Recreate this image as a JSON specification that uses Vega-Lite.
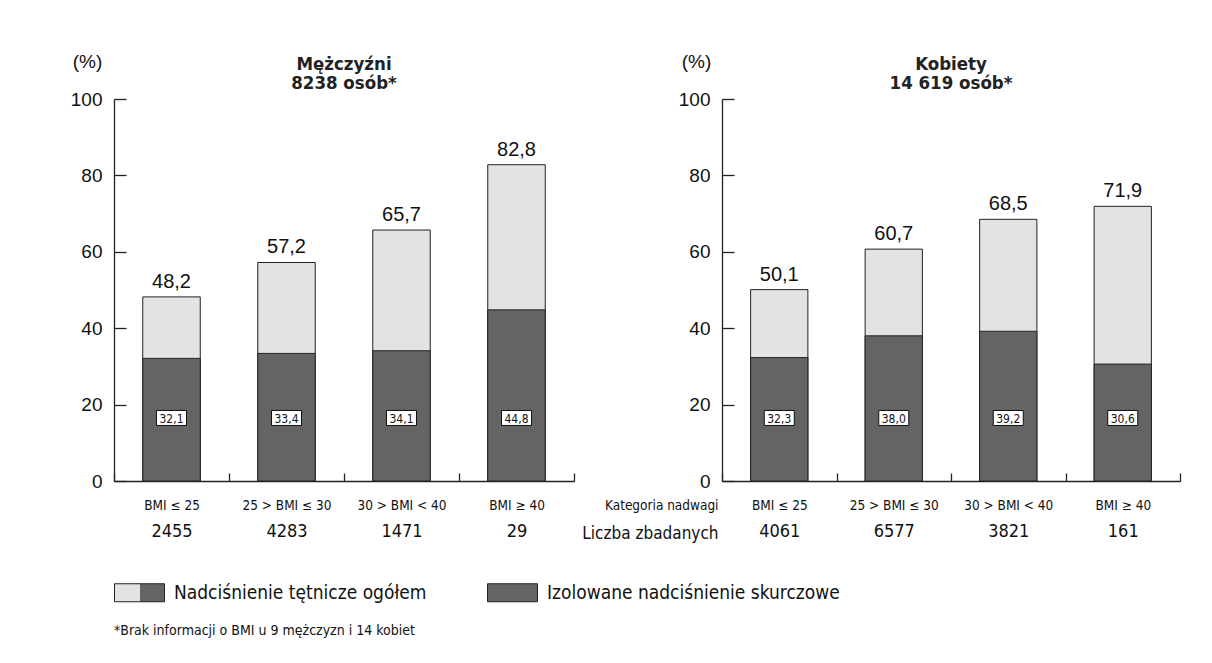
{
  "$schema": "https://vega.github.io/schema/vega-lite/v6.json",
  "padding": {"left": 70, "top": 52, "right": 10, "bottom": 10},
  "background": "white",
  "bounds": "flush",
  "spacing": 148,
  "datasets": {
    "men": [
      {"i": 1, "cat": "BMI ≤ 25", "n": 2455, "total": 48.2, "iso": 32.1},
      {"i": 2, "cat": "25 > BMI ≤ 30", "n": 4283, "total": 57.2, "iso": 33.4},
      {"i": 3, "cat": "30 > BMI < 40", "n": 1471, "total": 65.7, "iso": 34.1},
      {"i": 4, "cat": "BMI ≥ 40", "n": 29, "total": 82.8, "iso": 44.8}
    ],
    "women": [
      {"i": 1, "cat": "BMI ≤ 25", "n": 4061, "total": 50.1, "iso": 32.3},
      {"i": 2, "cat": "25 > BMI ≤ 30", "n": 6577, "total": 60.7, "iso": 38.0},
      {"i": 3, "cat": "30 > BMI < 40", "n": 3821, "total": 68.5, "iso": 39.2},
      {"i": 4, "cat": "BMI ≥ 40", "n": 161, "total": 71.9, "iso": 30.6}
    ],
    "series": [
      {"s": "Nadciśnienie tętnicze ogółem"},
      {"s": "Izolowane nadciśnienie skurczowe"}
    ]
  },
  "hconcat": [
    {
      "width": 460,
      "height": 382,
      "data": {"name": "men"},
      "title": {"text": ["Mężczyźni", "8238 osób*"]},
      "layer": [
        {
          "layer": [
            {
              "mark": {"type": "bar", "fill": "#e3e3e3", "stroke": "#222", "strokeWidth": 1, "width": {"band": 0.5}},
              "encoding": {
                "x": {"field": "cat", "type": "nominal", "sort": {"field": "i", "op": "min"}, "scale": {"paddingInner": 0, "paddingOuter": 0},
                  "axis": {"title": null, "labelAngle": 0, "tickBand": "extent", "tickSize": -8, "labelPadding": 25, "labelFont": "DejaVu Sans Condensed", "labelFontSize": 13.5, "labelColor": "#111", "domainColor": "#222", "tickColor": "#222", "domainWidth": 1.3, "tickWidth": 1.3}},
                "y": {"field": "total", "type": "quantitative", "scale": {"domain": [0, 100], "nice": false},
                  "axis": {"values": [0, 10, 20, 30, 40, 50, 60, 70, 80, 90, 100], "labelExpr": "datum.value % 20 === 0 ? datum.label : ''", "title": "(%)", "titleAngle": 0, "titleX": -27, "titleY": -38, "titleAlign": "center", "titleBaseline": "middle", "titleFont": "Liberation Sans", "titleFontSize": 19, "titleFontWeight": "normal", "titleColor": "#111", "labelFont": "Liberation Sans", "labelFontSize": 19, "labelColor": "#111", "tickSize": -12, "labelPadding": 24, "domainColor": "#222", "tickColor": "#222", "domainWidth": 1.3, "tickWidth": 1.3}}
              }
            },
            {
              "mark": {"type": "bar", "fill": "#646464", "stroke": "#222", "strokeWidth": 1, "width": {"band": 0.5}},
              "encoding": {
                "x": {"field": "cat", "type": "nominal", "sort": {"field": "i", "op": "min"}},
                "y": {"field": "iso", "type": "quantitative"}
              }
            },
            {
              "mark": {"type": "point", "shape": "M-1,-0.5H1V0.5H-1Z", "size": 900, "filled": true, "fill": "white", "stroke": "#111", "strokeWidth": 1, "opacity": 1},
              "encoding": {
                "x": {"field": "cat", "type": "nominal", "sort": {"field": "i", "op": "min"}},
                "y": {"datum": 16.5}
              }
            },
            {
              "mark": {"type": "text", "font": "DejaVu Sans Condensed", "fontSize": 12, "color": "#111", "baseline": "middle", "dy": 1},
              "encoding": {
                "x": {"field": "cat", "type": "nominal", "sort": {"field": "i", "op": "min"}},
                "y": {"datum": 16.5},
                "text": {"field": "iso", "type": "quantitative", "format": ".1f"}
              }
            },
            {
              "data": {"name": "series"},
              "mark": {"type": "point", "shape": "M-1,-0.36H1V0.36H-1Z", "size": 2500, "filled": true, "stroke": "#222", "strokeWidth": 1, "opacity": 1, "clip": true},
              "encoding": {
                "y": {"datum": 250},
                "fill": {"field": "s", "type": "nominal",
                  "scale": {"domain": ["Nadciśnienie tętnicze ogółem", "Izolowane nadciśnienie skurczowe"],
                    "range": [
                      {"expr": "{gradient: 'linear', x1: 0, y1: 0, x2: 1, y2: 0, stops: [{offset: 0, color: '#e3e3e3'}, {offset: 0.5, color: '#e3e3e3'}, {offset: 0.5, color: '#646464'}, {offset: 1, color: '#646464'}]}"},
                      "#646464"
                    ]},
                  "legend": {
                    "orient": "none", "legendX": 0, "legendY": 468, "direction": "horizontal",
                    "symbolType": "M-1,-0.36H1V0.36H-1Z", "symbolSize": 2500, "symbolStrokeColor": "#222", "symbolStrokeWidth": 1, "symbolOpacity": 1,
                    "labelFont": "DejaVu Sans Condensed", "labelFontSize": 19, "labelColor": "#111", "labelOffset": 9, "columnPadding": 58, "labelLimit": 0,
                    "title": "*Brak informacji o BMI u 9 mężczyzn i 14 kobiet", "titleOrient": "bottom", "titleFont": "DejaVu Sans Condensed", "titleFontSize": 14, "titleFontWeight": "normal", "titleColor": "#111", "titlePadding": 20, "titleLimit": 0
                  }}
              }
            }
          ]
        },
        {
          "mark": {"type": "text", "font": "Liberation Sans", "fontSize": 20, "color": "#111", "baseline": "bottom", "dy": -5},
          "encoding": {
            "x": {"field": "n", "type": "nominal", "sort": {"field": "i", "op": "min"}, "scale": {"paddingInner": 0, "paddingOuter": 0},
              "axis": {"orient": "bottom", "offset": 30, "domain": false, "ticks": false, "title": null, "labelAngle": 0, "labelPadding": 11, "labelFont": "DejaVu Sans Condensed", "labelFontSize": 18, "labelColor": "#111"}},
            "y": {"field": "total", "type": "quantitative"},
            "text": {"field": "total", "type": "quantitative", "format": ".1f"}
          }
        }
      ],
      "resolve": {"scale": {"x": "independent"}, "axis": {"x": "independent"}}
    },
    {
      "width": 458,
      "height": 382,
      "data": {"name": "women"},
      "title": {"text": ["Kobiety", "14 619 osób*"]},
      "layer": [
        {
          "layer": [
            {
              "mark": {"type": "bar", "fill": "#e3e3e3", "stroke": "#222", "strokeWidth": 1, "width": {"band": 0.5}},
              "encoding": {
                "x": {"field": "cat", "type": "nominal", "sort": {"field": "i", "op": "min"}, "scale": {"paddingInner": 0, "paddingOuter": 0},
                  "axis": {"title": "Kategoria nadwagi", "titleX": -4, "titleY": 24, "titleAlign": "right", "titleBaseline": "middle", "titleFont": "DejaVu Sans Condensed", "titleFontSize": 13.5, "titleFontWeight": "normal", "titleColor": "#111", "labelAngle": 0, "tickBand": "extent", "tickSize": -8, "labelPadding": 25, "labelFont": "DejaVu Sans Condensed", "labelFontSize": 13.5, "labelColor": "#111", "domainColor": "#222", "tickColor": "#222", "domainWidth": 1.3, "tickWidth": 1.3}},
                "y": {"field": "total", "type": "quantitative", "scale": {"domain": [0, 100], "nice": false},
                  "axis": {"values": [0, 10, 20, 30, 40, 50, 60, 70, 80, 90, 100], "labelExpr": "datum.value % 20 === 0 ? datum.label : ''", "title": "(%)", "titleAngle": 0, "titleX": -26, "titleY": -38, "titleAlign": "center", "titleBaseline": "middle", "titleFont": "Liberation Sans", "titleFontSize": 19, "titleFontWeight": "normal", "titleColor": "#111", "labelFont": "Liberation Sans", "labelFontSize": 19, "labelColor": "#111", "tickSize": -12, "labelPadding": 24, "domainColor": "#222", "tickColor": "#222", "domainWidth": 1.3, "tickWidth": 1.3}}
              }
            },
            {
              "mark": {"type": "bar", "fill": "#646464", "stroke": "#222", "strokeWidth": 1, "width": {"band": 0.5}},
              "encoding": {
                "x": {"field": "cat", "type": "nominal", "sort": {"field": "i", "op": "min"}},
                "y": {"field": "iso", "type": "quantitative"}
              }
            },
            {
              "mark": {"type": "point", "shape": "M-1,-0.5H1V0.5H-1Z", "size": 900, "filled": true, "fill": "white", "stroke": "#111", "strokeWidth": 1, "opacity": 1},
              "encoding": {
                "x": {"field": "cat", "type": "nominal", "sort": {"field": "i", "op": "min"}},
                "y": {"datum": 16.5}
              }
            },
            {
              "mark": {"type": "text", "font": "DejaVu Sans Condensed", "fontSize": 12, "color": "#111", "baseline": "middle", "dy": 1},
              "encoding": {
                "x": {"field": "cat", "type": "nominal", "sort": {"field": "i", "op": "min"}},
                "y": {"datum": 16.5},
                "text": {"field": "iso", "type": "quantitative", "format": ".1f"}
              }
            }
          ]
        },
        {
          "mark": {"type": "text", "font": "Liberation Sans", "fontSize": 20, "color": "#111", "baseline": "bottom", "dy": -5},
          "encoding": {
            "x": {"field": "n", "type": "nominal", "sort": {"field": "i", "op": "min"}, "scale": {"paddingInner": 0, "paddingOuter": 0},
              "axis": {"orient": "bottom", "offset": 30, "domain": false, "ticks": false, "title": "Liczba zbadanych", "titleX": -4, "titleY": 22, "titleAlign": "right", "titleBaseline": "middle", "titleFont": "DejaVu Sans Condensed", "titleFontSize": 17, "titleFontWeight": "normal", "titleColor": "#111", "labelAngle": 0, "labelPadding": 11, "labelFont": "DejaVu Sans Condensed", "labelFontSize": 18, "labelColor": "#111"}},
            "y": {"field": "total", "type": "quantitative"},
            "text": {"field": "total", "type": "quantitative", "format": ".1f"}
          }
        }
      ],
      "resolve": {"scale": {"x": "independent"}, "axis": {"x": "independent"}}
    }
  ],
  "config": {
    "locale": {"number": {"decimal": ",", "thousands": " ", "grouping": [3], "currency": ["", ""]}},
    "view": {"stroke": null},
    "axis": {"grid": false},
    "title": {"font": "DejaVu Sans Condensed", "fontWeight": "bold", "fontSize": 18.5, "lineHeight": 19, "color": "#222", "anchor": "middle", "offset": -40}
  }
}
